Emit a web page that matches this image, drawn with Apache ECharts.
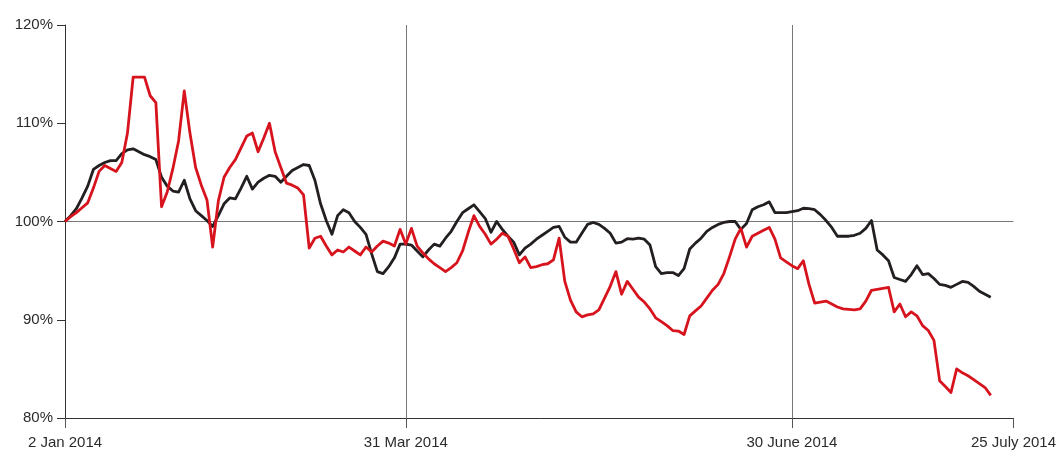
<!DOCTYPE html>
<html>
<head>
<meta charset="utf-8">
<script src="https://cdn.jsdelivr.net/npm/echarts@6/dist/echarts.min.js"></script>
<style>html,body{margin:0;padding:0;background:#fff}#c{width:1059px;height:451px}</style>
</head>
<body>
<div id="c"></div>
<script>
// Trading-day positions along the x axis (index), labelled ones below
const tickLabels = {0: '2 Jan 2014', 60: '31 Mar 2014', 128: '30 June 2014', 167: '25 July 2014'};
const dividerIdx = [60, 128];
const totalPoints = 168;

const yTicks = [80, 90, 100, 110, 120];

// Black series (%)
const blackSeries = [
100,100.6,101.3,102.4,103.6,105.3,105.7,106.0,106.2,106.2,
106.9,107.3,107.4,107.1,106.8,106.6,106.3,104.5,103.6,103.1,
103.0,104.2,102.3,101.1,100.6,100.1,99.5,100.6,101.8,102.4,
102.3,103.4,104.6,103.3,104.0,104.4,104.7,104.6,104.0,104.6,
105.2,105.5,105.8,105.7,104.2,101.8,100.1,98.7,100.6,101.2,
100.9,100.0,99.4,98.7,96.7,94.9,94.7,95.4,96.3,97.7,
97.7,97.6,97.0,96.4,97.1,97.7,97.5,98.3,99.0,100.0,
100.9,101.3,101.7,101.0,100.3,98.9,100.0,99.2,98.5,97.9,
96.6,97.3,97.7,98.2,98.6,99.0,99.4,99.5,98.4,97.9,
97.9,98.8,99.7,99.9,99.7,99.3,98.8,97.8,97.9,98.25,
98.2,98.3,98.2,97.6,95.4,94.7,94.8,94.8,94.5,95.2,
97.2,97.8,98.3,99.0,99.4,99.7,99.9,100.0,100.0,99.2,
99.8,101.2,101.5,101.7,102.0,100.9,100.9,100.9,101.0,101.1,
101.35,101.3,101.2,100.7,100.1,99.4,98.5,98.5,98.5,98.6,
98.8,99.3,100.1,97.1,96.6,96.0,94.3,94.1,93.9,94.6,
95.5,94.6,94.7,94.2,93.6,93.5,93.3,93.6,93.9,93.8,
93.4,92.9,92.6,92.3
];

// Red series (%)
const redSeries = [
100,100.5,100.9,101.4,101.9,103.4,105.1,105.7,105.4,105.1,
106.0,109.0,114.7,114.7,114.7,112.8,112.1,101.5,103.0,105.4,
108.2,113.3,109.0,105.5,103.7,102.2,97.4,102.1,104.5,105.5,
106.3,107.5,108.7,109.0,107.1,108.5,110.0,107.1,105.5,103.9,
103.7,103.4,102.7,97.3,98.3,98.5,97.5,96.6,97.1,96.9,
97.4,97.0,96.6,97.4,96.9,97.5,98.0,97.8,97.5,99.2,
97.7,99.3,97.5,96.8,96.2,95.7,95.3,94.9,95.3,95.8,
97.0,98.9,100.6,99.5,98.7,97.7,98.2,98.8,98.5,97.2,
95.8,96.4,95.3,95.4,95.6,95.7,96.1,98.3,93.9,92.0,
90.8,90.3,90.5,90.6,91.0,92.2,93.4,94.9,92.6,93.9,
93.1,92.3,91.8,91.1,90.2,89.8,89.4,88.9,88.85,88.5,
90.4,90.9,91.4,92.2,93.0,93.6,94.7,96.4,98.2,99.3,
97.4,98.5,98.8,99.1,99.4,98.2,96.3,95.9,95.5,95.2,
96.0,93.6,91.7,91.8,91.9,91.6,91.3,91.1,91.05,91.0,
91.1,91.9,93.0,93.1,93.2,93.3,90.8,91.6,90.3,90.8,
90.4,89.4,88.9,87.9,83.8,83.2,82.6,85.0,84.6,84.3,
83.9,83.5,83.1,82.3
];

const categories = Array.from({length: totalPoints}, (_, i) => String(i));
const pad = arr => arr.concat(Array(totalPoints - arr.length).fill(null));

const isLabelled = idx => Object.prototype.hasOwnProperty.call(tickLabels, idx);
const font = '"Liberation Sans", Arial, sans-serif';

const chart = echarts.init(document.getElementById('c'), null, {renderer: 'canvas'});
chart.setOption({
  animation: false,
  backgroundColor: '#fff',
  grid: {left: 65, right: 45, top: 25, bottom: 33, containLabel: false},
  xAxis: {
    type: 'category',
    data: categories,
    boundaryGap: false,
    axisLine: {show: true, lineStyle: {color: '#333', width: 1}},
    axisTick: {show: true, length: 10, interval: (i) => isLabelled(i), lineStyle: {color: '#555', width: 1}},
    axisLabel: {
      interval: (i) => isLabelled(i),
      formatter: (v, i) => tickLabels[i] || '',
      color: '#2b2b2b', fontSize: 15, fontFamily: font, margin: 17
    },
    splitLine: {show: true, interval: (i) => dividerIdx.indexOf(i) >= 0, lineStyle: {color: '#777', width: 1}}
  },
  yAxis: {
    type: 'value',
    min: yTicks[0], max: yTicks[yTicks.length - 1], interval: 10,
    axisLine: {show: true, lineStyle: {color: '#333', width: 1}},
    axisTick: {show: true, length: 8, lineStyle: {color: '#333', width: 1}},
    axisLabel: {
      formatter: v => v + '%', color: '#2b2b2b', fontSize: 15, fontFamily: font,
      margin: 12, verticalAlign: 'middle', padding: [0, 0, 11, 0]
    },
    splitLine: {show: true, lineStyle: {color: ['rgba(0,0,0,0)', 'rgba(0,0,0,0)', '#777', 'rgba(0,0,0,0)', 'rgba(0,0,0,0)'], width: 1}}
  },
  series: [
    {type: 'line', data: pad(blackSeries), showSymbol: false, symbol: 'none', connectNulls: false,
     lineStyle: {color: '#231f20', width: 2.8, join: 'round'}, itemStyle: {color: '#231f20'}, z: 3},
    {type: 'line', data: pad(redSeries), showSymbol: false, symbol: 'none', connectNulls: false,
     lineStyle: {color: '#d7141e', width: 2.8, join: 'round'}, itemStyle: {color: '#d7141e'}, z: 4}
  ]
});
</script>
</body>
</html>
